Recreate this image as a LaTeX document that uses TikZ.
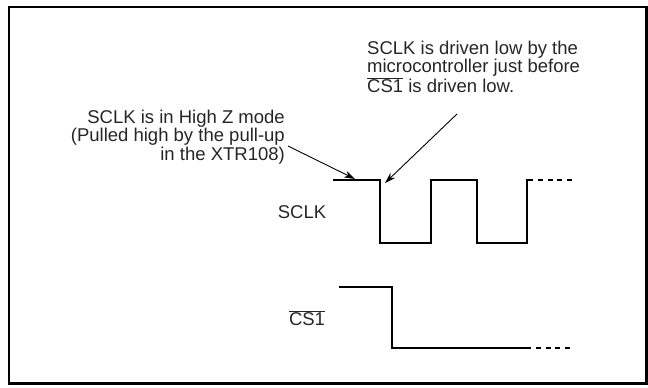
\documentclass[tikz,border=0pt]{standalone}
\usepackage{fontspec}
\setmainfont{Liberation Sans}
\usetikzlibrary{arrows.meta}
\begin{document}
\begin{tikzpicture}[x=1pt,y=-1pt,
  lbl/.style={inner sep=0pt, text=black!85, font=\fontsize{18.5}{18.5}\selectfont},
  wave/.style={line width=2.6pt, line join=miter},
  dots/.style={line width=2.6pt, dash pattern=on 5pt off 4.5pt},
  callout/.style={line width=0.9pt, -{Stealth[length=11pt,width=7pt]}},
  frame/.style={line width=2.3pt}]
\useasboundingbox (0,0) rectangle (648,388);
\draw[frame] (9,7) rectangle (646.5,383.5);

% texts
\node[lbl, anchor=east, align=right] (hz) at (285,137)
  {SCLK is in High Z mode\\(Pulled high by the pull-up\\in the XTR108)};
\node[lbl, anchor=west, align=left] (dl) at (367,67)
  {SCLK is driven low by the\\microcontroller just before\\$\overline{\mbox{CS1}}$ is driven low.};
\node[lbl] (sclk) at (302,212) {SCLK};
\node[lbl] (cs) at (307,318) {$\overline{\mbox{CS1}}$};

% SCLK waveform
\draw[wave] (333,180) -- (380,180) -- (380,243) -- (431,243) -- (431,180)
  -- (477,180) -- (477,243) -- (527,243) -- (527,180) -- (533,180);
\draw[dots] (538,180) -- (574,180);

% CS1 waveform
\draw[wave] (339,287) -- (392,287) -- (392,348) -- (531,348);
\draw[dots] (536,348) -- (574,348);

% callouts
\coordinate (t1) at (355,179);
\coordinate (t2) at (385,183);
\coordinate (s1) at (288,146);
\coordinate (s2) at (457,114);
\draw[callout] (s1) -- (t1);
\draw[callout] (s2) -- (t2);
\end{tikzpicture}
\end{document}
